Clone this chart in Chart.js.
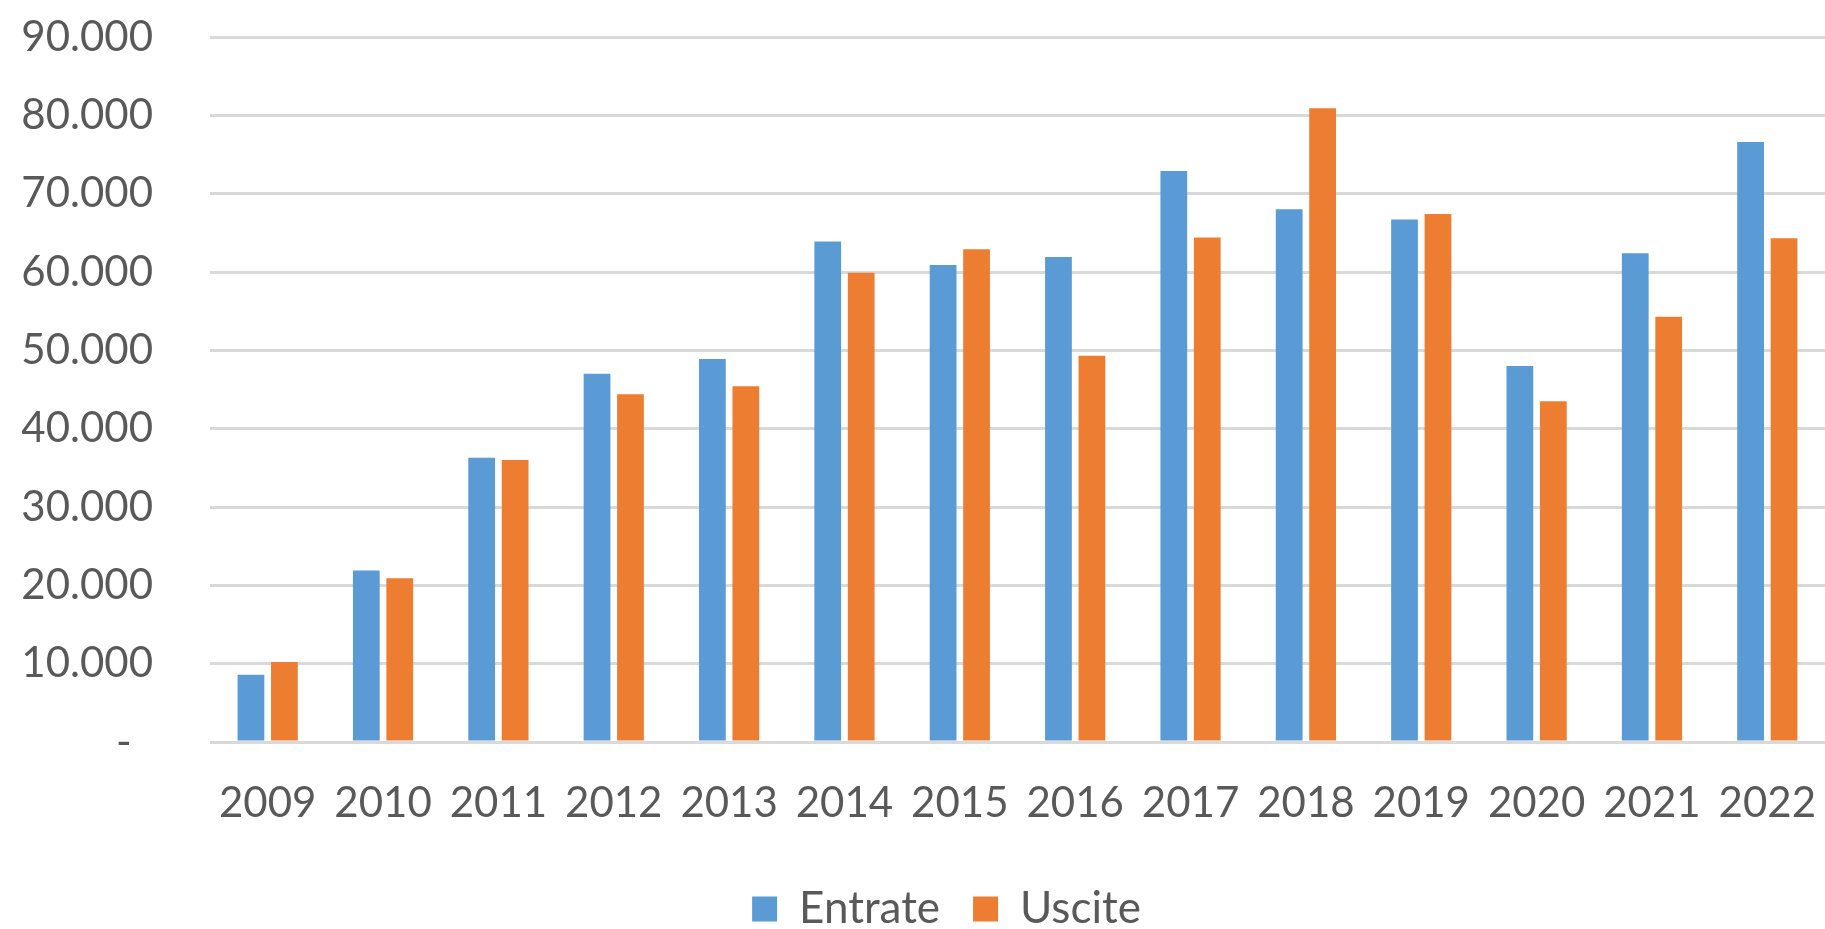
<!DOCTYPE html>
<html>
<head>
<meta charset="utf-8">
<script src="https://cdn.jsdelivr.net/npm/chart.js@4.4.1/dist/chart.umd.min.js"></script>
<style>
  html, body { margin: 0; padding: 0; background: #ffffff; }
  #wrap { width: 1825px; height: 929px; position: relative; }
</style>
</head>
<body>
<div id="wrap"><canvas id="c"></canvas></div>
<script>
const years = ['2009','2010','2011','2012','2013','2014','2015','2016','2017','2018','2019','2020','2021','2022'];
const entrate = [8600, 21900, 36300, 47000, 48900, 63900, 60900, 61900, 72900, 68000, 66700, 48000, 62400, 76600];
const uscite  = [10200, 20900, 36000, 44400, 45400, 59900, 62900, 49300, 64400, 80900, 67400, 43500, 54300, 64300];
const yTickLabels = ['-  ', '10.000', '20.000', '30.000', '40.000', '50.000', '60.000', '70.000', '80.000', '90.000'];
const seriesNames = ['Entrate', 'Uscite'];

const FONT = 'Lato, "Open Sans", sans-serif';
const TEXT = '#595959';

// let the y labels use the whole left margin (legend is centred with a left layout padding)
const widenYLabelArea = {
  id: 'widenYLabelArea',
  afterLayout(chart) { chart.scales.y.left = 0; }
};

new Chart(document.getElementById('c'), {
  type: 'bar',
  data: {
    labels: years,
    datasets: [
      { label: seriesNames[0], data: entrate, backgroundColor: '#5B9BD5', borderWidth: 0,
        categoryPercentage: 0.58, barPercentage: 0.8 },
      { label: seriesNames[1], data: uscite, backgroundColor: '#ED7D31', borderWidth: 0,
        categoryPercentage: 0.58, barPercentage: 0.8 }
    ]
  },
  plugins: [widenYLabelArea],
  options: {
    responsive: true,
    maintainAspectRatio: false,
    devicePixelRatio: 1,
    animation: false,
    layout: { padding: { top: 37, right: 0, left: 68, bottom: -12 } },
    plugins: {
      tooltip: { enabled: false },
      legend: {
        position: 'bottom',
        labels: {
          color: TEXT,
          font: { family: FONT, size: 44, lineHeight: 1.0 },
          boxWidth: 25,
          boxHeight: 25,
          padding: 33
        }
      }
    },
    scales: {
      x: {
        afterFit: (s) => { s.height = 112; s.paddingLeft = 0; s.paddingRight = 0; },
        grid: { display: false, drawTicks: false },
        border: { display: false },
        ticks: { color: TEXT, font: { family: FONT, size: 42 }, padding: 36, maxRotation: 0, autoSkip: false }
      },
      y: {
        min: 0,
        max: 90000,
        afterFit: (s) => { s.width = 142; s.paddingTop = 0; s.paddingBottom = 0; },
        grid: { color: '#D9D9D9', lineWidth: 3, drawTicks: false },
        border: { display: false },
        ticks: {
          stepSize: 10000,
          color: TEXT,
          font: { family: FONT, size: 42 },
          padding: 57,
          callback: (v) => yTickLabels[Math.round(v / 10000)]
        }
      }
    }
  }
});
</script>
</body>
</html>
